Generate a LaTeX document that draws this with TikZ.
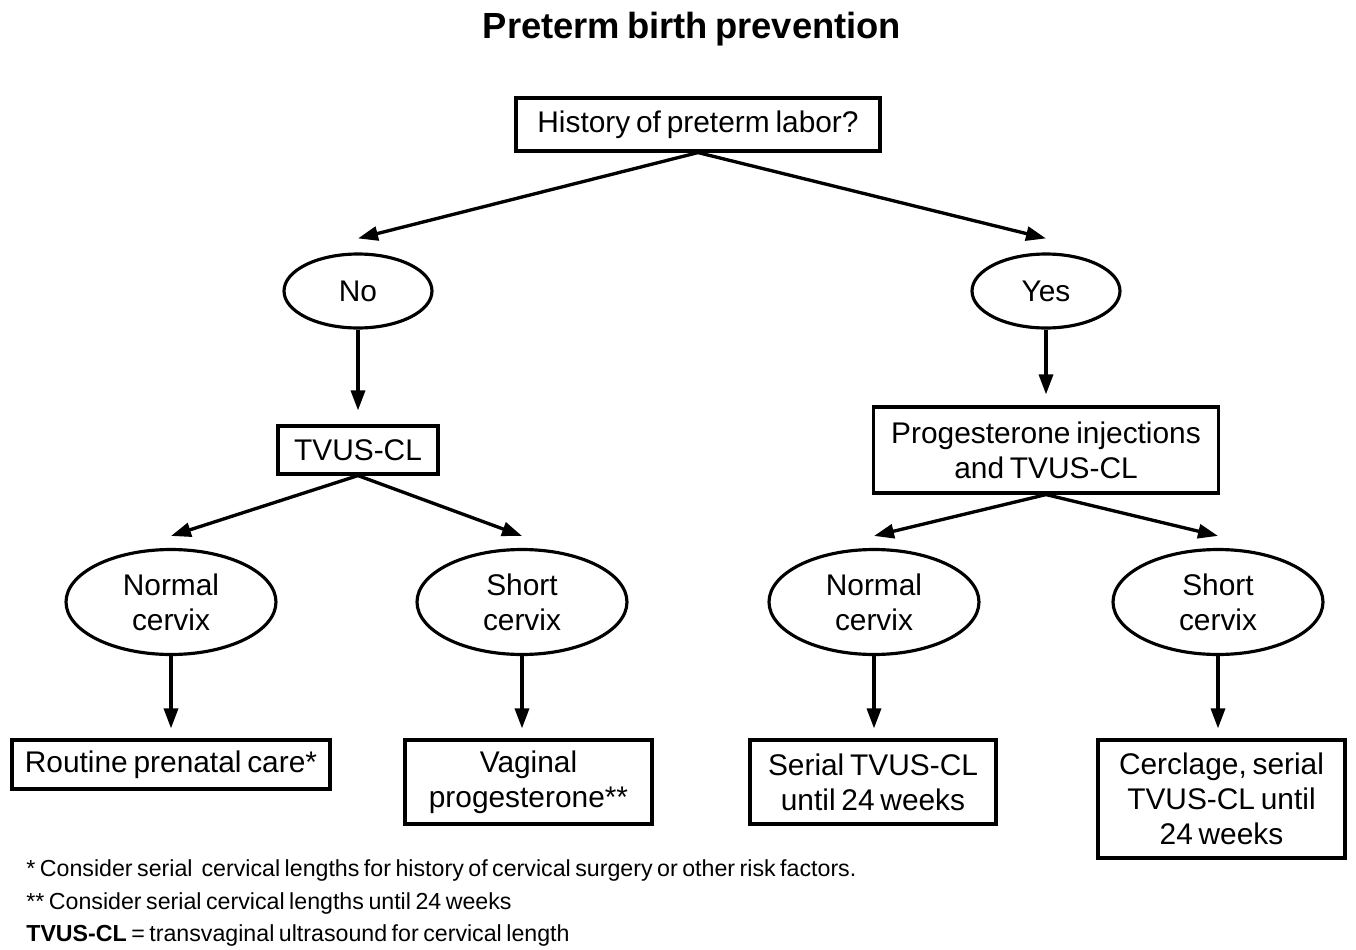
\documentclass[tikz,border=0pt]{standalone}
\usepackage{fontspec}
\setmainfont{Liberation Sans}[WordSpace={0.7,0.5,0.3}]
\usetikzlibrary{shapes.geometric,arrows.meta}
\tikzset{
  box/.style={draw, line width=1.8pt, rectangle, inner sep=0pt, align=center, font=\fontsize{17}{20}\selectfont},
  oval/.style={draw, line width=1.8pt, ellipse, inner sep=0pt, align=center, font=\fontsize{17}{20}\selectfont},
  arr/.style={line width=1.9pt, -{Triangle[length=0.4cm,width=0.28cm]}},
  note/.style={anchor=base west, inner sep=0pt, font=\fontsize{13.2}{15}\selectfont}
}
\begin{document}
\begin{tikzpicture}[x=0.02cm,y=-0.02cm]
\useasboundingbox (0,0) rectangle (1356,950);
\node[inner sep=0pt, anchor=base, font=\bfseries\fontsize{20.7}{24}\selectfont] (title) at (692,38) {Preterm birth prevention};
\node[box, minimum width=7.28cm, minimum height=1.06cm] (q) at (698,124.5) {History of preterm labor?};
\node[oval, minimum width=2.96cm, minimum height=1.48cm] (no) at (358,291) {No};
\node[oval, minimum width=2.96cm, minimum height=1.48cm] (yes) at (1046,291) {Yes};
\node[box, minimum width=3.2cm, minimum height=0.96cm] (tv) at (358,450) {TVUS-CL};
\node[box, minimum width=6.9cm, minimum height=1.72cm] (pi) at (1046,450) {Progesterone injections\\and TVUS-CL};
\node[oval, minimum width=4.2cm, minimum height=2.1cm] (nl) at (171,602) {Normal\\cervix};
\node[oval, minimum width=4.2cm, minimum height=2.1cm] (sl) at (522,602) {Short\\cervix};
\node[oval, minimum width=4.2cm, minimum height=2.1cm] (nr) at (874,602) {Normal\\cervix};
\node[oval, minimum width=4.2cm, minimum height=2.1cm] (sr) at (1218,602) {Short\\cervix};
\node[box, minimum width=6.36cm, minimum height=0.98cm] (rc) at (171,764.5) {Routine prenatal care*};
\node[box, minimum width=4.94cm, minimum height=1.68cm] (vp) at (528.5,782) {Vaginal\\progesterone**};
\node[box, minimum width=4.92cm, minimum height=1.68cm] (st) at (873,782) {Serial TVUS-CL\\until 24 weeks};
\node[box, minimum width=4.94cm, minimum height=2.36cm] (cc) at (1221.5,799) {Cerclage, serial\\TVUS-CL until\\24 weeks};
\draw[arr] (q.south) -- ([yshift=0.28cm]no.north);
\draw[arr] (q.south) -- ([yshift=0.28cm]yes.north);
\draw[arr, shorten >=0.28cm] (no.south) -- (tv.north);
\draw[arr, shorten >=0.22cm] (yes.south) -- (pi.north);
\draw[arr] (tv.south) -- ([yshift=0.24cm]nl.north);
\draw[arr] (tv.south) -- ([yshift=0.24cm]sl.north);
\draw[arr] (pi.south) -- ([yshift=0.24cm]nr.north);
\draw[arr] (pi.south) -- ([yshift=0.24cm]sr.north);
\draw[arr, shorten >=0.2cm] (nl.south) -- (nl.south |- rc.north);
\draw[arr, shorten >=0.2cm] (sl.south) -- (sl.south |- vp.north);
\draw[arr, shorten >=0.2cm] (nr.south) -- (nr.south |- st.north);
\draw[arr, shorten >=0.2cm] (sr.south) -- (sr.south |- cc.north);
\node[note] (n1) at (26,876) {* Consider serial\ \ cervical lengths for history of cervical surgery or other risk factors.};
\node[note] (n2) at (26,909) {** Consider serial cervical lengths until 24 weeks};
\node[note] (n3) at (26,941) {\textbf{TVUS-CL} = transvaginal ultrasound for cervical length};
\end{tikzpicture}
\end{document}
